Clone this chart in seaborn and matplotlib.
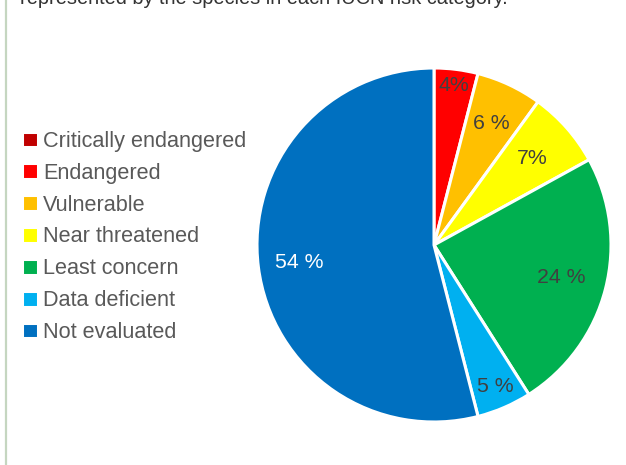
import numpy as np
import matplotlib
matplotlib.use("Agg")
import matplotlib.pyplot as plt
from matplotlib.lines import Line2D
import seaborn as sns

sns.set_theme(style="white")
plt.rcParams["font.family"] = ["Liberation Sans", "DejaVu Sans"]

# IUCN risk categories and share of species (%)
categories = ["Critically endangered", "Endangered", "Vulnerable", "Near threatened",
              "Least concern", "Data deficient", "Not evaluated"]
shares = [0, 4, 6, 7, 24, 5, 54]
value_labels = ["", "4%", "6 %", "7%", "24 %", "5 %", "54 %"]
colors = ["#C00000", "#FF0000", "#FFC000", "#FFFF00", "#00B050", "#00B0F0", "#0070C0"]
label_colors = ["#404040"] * 6 + ["white"]
label_radius = [0.9, 0.91, 0.76, 0.74, 0.74, 0.87, 0.77]

W, H = 626, 465
fig = plt.figure(figsize=(W / 100, H / 100), dpi=100)

cx, cy, R = 434, 245, 177
ax = fig.add_axes([(cx - R) / W, (H - cy - R) / H, 2 * R / W, 2 * R / H])
wedges, _ = ax.pie(shares, colors=colors, startangle=90, counterclock=False,
                   wedgeprops=dict(edgecolor="white", linewidth=2.2))
ax.set_xlim(-1, 1)
ax.set_ylim(-1, 1)
ax.set_aspect("equal")
ax.axis("off")

# percentage labels at each wedge's mid-angle
for w, txt, r, c in zip(wedges, value_labels, label_radius, label_colors):
    if not txt:
        continue
    ang = np.deg2rad((w.theta1 + w.theta2) / 2)
    ax.text(r * np.cos(ang), r * np.sin(ang), txt, ha="center", va="center",
            fontsize=15.3, color=c)

leg = fig.legend(wedges, categories, loc="upper left",
                 bbox_to_anchor=(22 / W, 1 - 131 / H), frameon=False,
                 fontsize=15.6, handlelength=0.75, handleheight=0.75,
                 handletextpad=0.22, labelspacing=0.5, borderpad=0, borderaxespad=0)
for t in leg.get_texts():
    t.set_color("#595959")

fig.text(20 / W, 1 - 4 / H, "represented by the species in each IUCN risk category.",
         fontsize=14.4, color="#333333", ha="left", va="baseline")

fig.add_artist(Line2D([6 / W, 6 / W], [0, 1], transform=fig.transFigure,
                      color="#C5D6C0", linewidth=1.6))

fig.savefig("out.png", dpi=100, facecolor="white")
